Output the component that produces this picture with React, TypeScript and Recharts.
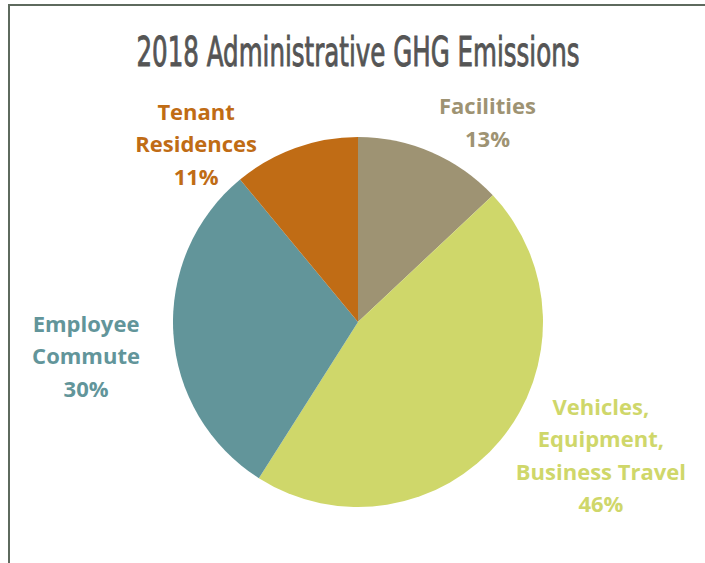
import { PieChart, Pie, Cell } from "recharts";

const categories = ["Facilities", "Vehicles, Equipment, Business Travel", "Employee Commute", "Tenant Residences"];
const shares = [13, 46, 30, 11];
const colors = ["#9e9373", "#cfd76a", "#62959a", "#c06c15"];

// label lines per slice (last line is the percent) and where the block sits, in units of the radius
const labelLines = [["Facilities"], ["Vehicles,", "Equipment,", "Business Travel"], ["Employee", "Commute"], ["Tenant", "Residences"]];
const labelAnchors = [
  [0.7, -1.085],
  [1.313, 0.715],
  [-1.47, 0.18],
  [-0.875, -0.965],
];

const data = categories.map((name, i) => ({ name, value: shares[i] }));

const LINE_H = 32.5;

function renderLabel(props: any) {
  const { cx, cy, outerRadius, index, value } = props;
  const lines = [...labelLines[index], `${value}%`];
  const [ax, ay] = labelAnchors[index];
  const x = cx + ax * outerRadius;
  const y0 = cy + ay * outerRadius - ((lines.length - 1) * LINE_H) / 2;
  return (
    <g key={`lbl-${index}`}>
      {lines.map((t, j) => (
        <text
          key={j}
          x={x}
          y={y0 + j * LINE_H}
          textAnchor="middle"
          dominantBaseline="central"
          fill={colors[index]}
          fontFamily="'Open Sans', Lato, sans-serif"
          fontWeight={700}
          fontSize={22}
        >
          {t}
        </text>
      ))}
    </g>
  );
}

export default function App() {
  return (
    <div style={{ position: "absolute", left: 0, top: 0, width: 705, height: 563, background: "#fff", overflow: "hidden" }}>
      <div
        style={{
          position: "absolute",
          left: 8,
          top: 4,
          width: 720,
          height: 600,
          borderTop: "2px solid #5e6a5e",
          borderLeft: "2px solid #5e6a5e",
        }}
      />
      <svg width={705} height={120} style={{ position: "absolute", left: 0, top: 0 }}>
        <g transform="translate(358,66) scale(1,1.3)">
          <text
            x={0}
            y={0}
            textAnchor="middle"
            fill="#555555"
            stroke="#555555"
            strokeWidth={0.7}
            fontFamily="'DejaVu Sans Condensed', 'Liberation Sans Narrow', sans-serif"
            fontSize={32}
            textLength={443}
            lengthAdjust="spacingAndGlyphs"
          >
            2018 Administrative GHG Emissions
          </text>
        </g>
      </svg>
      <div style={{ position: "absolute", left: 0, top: 0 }}>
        <PieChart width={705} height={563} margin={{ top: 0, right: 0, bottom: 0, left: 0 }}>
          <Pie
            data={data}
            dataKey="value"
            nameKey="name"
            cx={358}
            cy={322}
            outerRadius={185}
            startAngle={90}
            endAngle={-270}
            stroke="none"
            labelLine={false}
            label={renderLabel}
            isAnimationActive={false}
          >
            {data.map((_, i) => (
              <Cell key={i} fill={colors[i]} />
            ))}
          </Pie>
        </PieChart>
      </div>
    </div>
  );
}
